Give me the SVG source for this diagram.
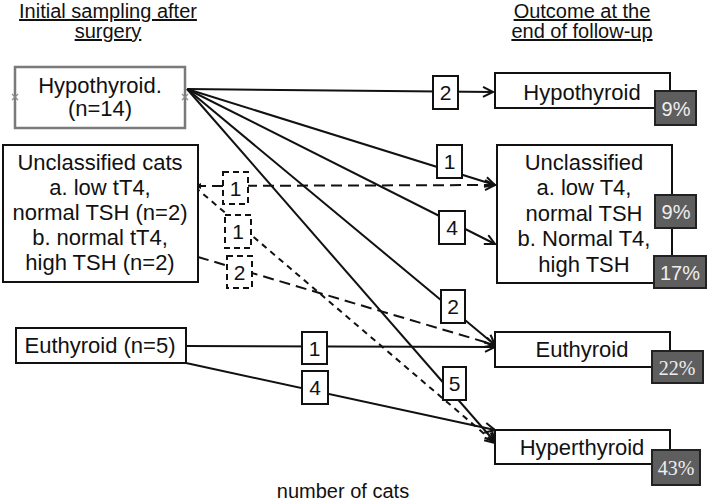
<svg xmlns="http://www.w3.org/2000/svg" width="709" height="504" viewBox="0 0 709 504">
<style>
.t{font-family:"Liberation Sans",Arial,sans-serif;font-size:22px;fill:#111;text-anchor:middle}
.title{font-size:20px;text-decoration:underline}
.num{font-size:21px}
.box{fill:#fff;stroke:#111;stroke-width:2}
.gbox{fill:#fff;stroke:#7a7a7a;stroke-width:2.5}
.lbl{fill:#fff;stroke:#111;stroke-width:2}
.dlbl{fill:#fff;stroke:#111;stroke-width:2;stroke-dasharray:6 4}
.pct{fill:#5e5e5e;stroke:#222;stroke-width:2}
.pt{fill:#eee;font-size:20px}
.ps{font-family:"Liberation Serif","Times New Roman",serif}
.ln{stroke:#111;stroke-width:2;fill:none}
.dl{stroke-dasharray:11 6}
.ds{stroke-dasharray:6 5}
.gx{stroke:#8a8a8a;stroke-width:1.2;fill:none}
</style>
<defs>
<marker id="arr" markerUnits="userSpaceOnUse" markerWidth="14" markerHeight="14" refX="11" refY="6" orient="auto">
<path d="M1,1 L11,6 L1,11" fill="none" stroke="#111" stroke-width="2" stroke-dasharray="none"/>
</marker>
<marker id="tri" markerUnits="userSpaceOnUse" markerWidth="10" markerHeight="10" refX="1" refY="4" orient="auto">
<path d="M1,4 L7,1 L7,7 Z" fill="#111" stroke="none"/>
</marker>
</defs>
<rect width="709" height="504" fill="#fff"/>

<g id="titles">
<text class="t title" x="108" y="18">Initial sampling after</text>
<text class="t title" x="108" y="38">surgery</text>
<text class="t title" x="582" y="18">Outcome at the</text>
<text class="t title" x="582" y="38">end of follow-up</text>
<text class="t" style="font-size:20px" x="343" y="498">number of cats</text>
</g>

<g id="connectors">
<line class="ln" x1="187" y1="89" x2="493" y2="92" marker-end="url(#arr)"/>
<line class="ln" x1="187" y1="89" x2="495" y2="185" marker-end="url(#arr)"/>
<line class="ln" x1="187" y1="89" x2="495" y2="244" marker-end="url(#arr)"/>
<line class="ln" x1="187" y1="89" x2="495" y2="345" marker-end="url(#arr)"/>
<line class="ln" x1="187" y1="89" x2="495" y2="442" marker-end="url(#arr)"/>
<line class="ln" x1="186" y1="346" x2="495" y2="347" marker-end="url(#arr)"/>
<line class="ln" x1="186" y1="363" x2="495" y2="430" marker-end="url(#arr)"/>
<line class="ln dl" x1="195" y1="186" x2="495" y2="185" marker-start="url(#tri)" marker-end="url(#arr)"/>
<line class="ln ds" x1="195" y1="187" x2="495" y2="443" marker-end="url(#arr)"/>
<line class="ln dl" x1="198" y1="257" x2="495" y2="345" marker-end="url(#arr)"/>

<rect class="lbl" x="433" y="76" width="25" height="33"/><text class="t num" x="445.5" y="100">2</text>
<rect class="lbl" x="437" y="145" width="25" height="33"/><text class="t num" x="449.5" y="169">1</text>
<rect class="lbl" x="439" y="211" width="26" height="33"/><text class="t num" x="452" y="235">4</text>
<rect class="lbl" x="441" y="290" width="24" height="33"/><text class="t num" x="453" y="314">2</text>
<rect class="lbl" x="443" y="367" width="23" height="33"/><text class="t num" x="454.5" y="391">5</text>
<rect class="lbl" x="302" y="332" width="25" height="32"/><text class="t num" x="314.5" y="356">1</text>
<rect class="lbl" x="302" y="371" width="26" height="33"/><text class="t num" x="315" y="395">4</text>
<rect class="dlbl" x="223" y="172" width="25" height="32"/><text class="t num" x="235.5" y="196">1</text>
<rect class="dlbl" x="225" y="215" width="26" height="33"/><text class="t num" x="238" y="239">1</text>
<rect class="dlbl" x="227" y="256" width="25" height="32"/><text class="t num" x="239.5" y="280">2</text>
</g>

<g id="src-hypo">
<rect class="gbox" x="15" y="67" width="170" height="61"/>
<text class="t" x="100" y="93">Hypothyroid.</text>
<text class="t" x="100" y="116">(n=14)</text>
<path class="gx" d="M12,94 L18,100 M18,94 L12,100"/>
<path class="gx" d="M182,94 L188,100 M188,94 L182,100"/>
</g>

<g id="src-unclassified">
<rect class="box" x="3" y="145" width="195" height="137"/>
<text class="t" x="100" y="170">Unclassified cats</text>
<text class="t" x="100" y="195">a. low tT4,</text>
<text class="t" x="100" y="220">normal TSH (n=2)</text>
<text class="t" x="100" y="245">b. normal tT4,</text>
<text class="t" x="100" y="270">high TSH (n=2)</text>
</g>

<g id="src-eu">
<rect class="box" x="16" y="328" width="170" height="35"/>
<text class="t" x="100" y="353">Euthyroid (n=5)</text>
</g>

<g id="out-hypo">
<rect class="box" x="495" y="73" width="175" height="35"/>
<text class="t" x="582" y="100">Hypothyroid</text>
<rect class="pct" x="655" y="91" width="41" height="34"/>
<text class="t pt" x="676" y="116">9%</text>
</g>

<g id="out-unclassified">
<rect class="box" x="497" y="145" width="175" height="138"/>
<text class="t" x="584" y="170">Unclassified</text>
<text class="t" x="584" y="195">a. low T4,</text>
<text class="t" x="584" y="221">normal TSH</text>
<text class="t" x="584" y="246">b. Normal T4,</text>
<text class="t" x="584" y="272">high TSH</text>
<rect class="pct" x="655" y="195" width="41" height="33"/>
<text class="t pt" x="676" y="219">9%</text>
<rect class="pct" x="654" y="256" width="52" height="32"/>
<text class="t pt" x="680" y="280">17%</text>
</g>

<g id="out-eu">
<rect class="box" x="495" y="332" width="175" height="35"/>
<text class="t" x="582" y="357">Euthyroid</text>
<rect class="pct" x="652" y="351" width="51" height="32"/>
<text class="t pt ps" x="677" y="375">22%</text>
</g>

<g id="out-hyper">
<rect class="box" x="495" y="430" width="175" height="34"/>
<text class="t" x="582" y="455">Hyperthyroid</text>
<rect class="pct" x="652" y="450" width="48" height="35"/>
<text class="t pt ps" x="676" y="475">43%</text>
</g>
</svg>
